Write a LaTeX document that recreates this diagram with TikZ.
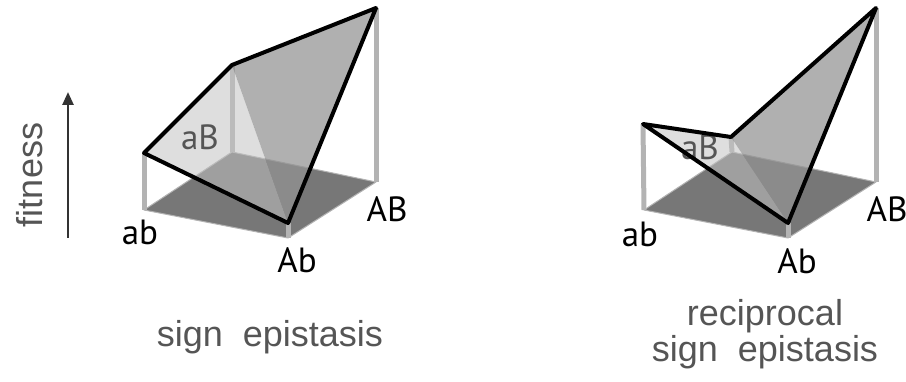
\documentclass[tikz,border=0pt]{standalone}
\usepackage{fontspec}
\setmainfont{Liberation Sans}
\newfontfamily\genofont{PT Sans}
\usetikzlibrary{arrows.meta}
\definecolor{floorgray}{HTML}{777777}
\definecolor{postgray}{HTML}{B3B3B3}
\definecolor{facelight}{HTML}{C2C2C2}
\definecolor{facedark}{HTML}{939393}
\definecolor{textgray}{HTML}{555555}
\tikzset{
  floor/.style = {fill=floorgray, draw=postgray, line width=1pt, line join=round},
  post/.style  = {postgray, line width=5pt},
  lightface/.style = {fill=facelight, fill opacity=0.54},
  darkface/.style  = {fill=facedark, fill opacity=0.73},
  rim/.style   = {black, line width=4pt, line join=round},
}

\begin{document}
\begin{tikzpicture}[
  x=1pt, y=-1pt,
  geno/.style={font=\genofont\fontsize{35}{35}\selectfont, inner sep=0pt, anchor=base},
  hidden/.style={geno, text=textgray},
  caption/.style={font=\fontsize{36}{36}\selectfont, text=textgray,
                  inner sep=0pt, align=center},
  axis/.style={draw=black!80, line width=2.5pt, -{Triangle[length=13pt, width=11pt]}}
]
\useasboundingbox (0,0) rectangle (906,382);
% Fitness axis
\coordinate (fit0) at (68,238);
\coordinate (fit1) at (68,92);
\draw[axis] (fit0) -- (fit1);
\node[caption, rotate=90] (fitness) at (30,175) {fitness};

% Left panel: sign epistasis
\coordinate (sab0) at (144,210);
\coordinate (sAb0) at (288,238);
\coordinate (sAB0) at (376,182);
\coordinate (saB0) at (232,152);
\coordinate (sab1) at (144,153);
\coordinate (sAb1) at (288,223);
\coordinate (sAB1) at (376,8);
\coordinate (saB1) at (232,65);
\draw[floor] (sab0) -- (sAb0) -- (sAB0) -- (saB0) -- cycle;
\draw[post] (sab0) -- (sab1);
\draw[post] (saB0) -- (saB1);
\draw[post] (sAB0) -- (sAB1);
\draw[post] (sAb0) -- (sAb1);
\fill[lightface] (sab1) -- (saB1) -- (sAb1) -- cycle;
\fill[darkface] (saB1) -- (sAB1) -- (sAb1) -- cycle;
\node[hidden] (saB) at (200,150) {aB};
\draw[rim] (sab1) -- (saB1) -- (sAB1) -- (sAb1) -- cycle;
\node[geno] (sab) at (140,245) {ab};
\node[geno] (sAb) at (297,273) {Ab};
\node[geno] (sAB) at (387,222) {AB};
\node[caption, anchor=base] (scap) at (270,347) {sign\ \ epistasis};

% Right panel: reciprocal sign epistasis
\coordinate (rab0) at (644,210);
\coordinate (rAb0) at (788,238);
\coordinate (rAB0) at (876,182);
\coordinate (raB0) at (732,152);
\coordinate (rab1) at (643,124);
\coordinate (rAb1) at (788,223);
\coordinate (rAB1) at (876,8);
\coordinate (raB1) at (731,137);
\draw[floor] (rab0) -- (rAb0) -- (rAB0) -- (raB0) -- cycle;
\draw[post] (rab0) -- (rab1);
\draw[post] (raB0) -- (raB1);
\draw[post] (rAB0) -- (rAB1);
\draw[post] (rAb0) -- (rAb1);
\fill[lightface] (rab1) -- (raB1) -- (rAb1) -- cycle;
\fill[darkface] (raB1) -- (rAB1) -- (rAb1) -- cycle;
\node[hidden] (raB) at (700,160) {aB};
\draw[rim] (rab1) -- (raB1) -- (rAB1) -- (rAb1) -- cycle;
\node[geno] (rab) at (640,247) {ab};
\node[geno] (rAb) at (797,274) {Ab};
\node[geno] (rAB) at (887,222) {AB};
\node[caption, anchor=north] (rcap) at (765,299) {reciprocal\\sign\ \ epistasis};
\end{tikzpicture}
\end{document}
